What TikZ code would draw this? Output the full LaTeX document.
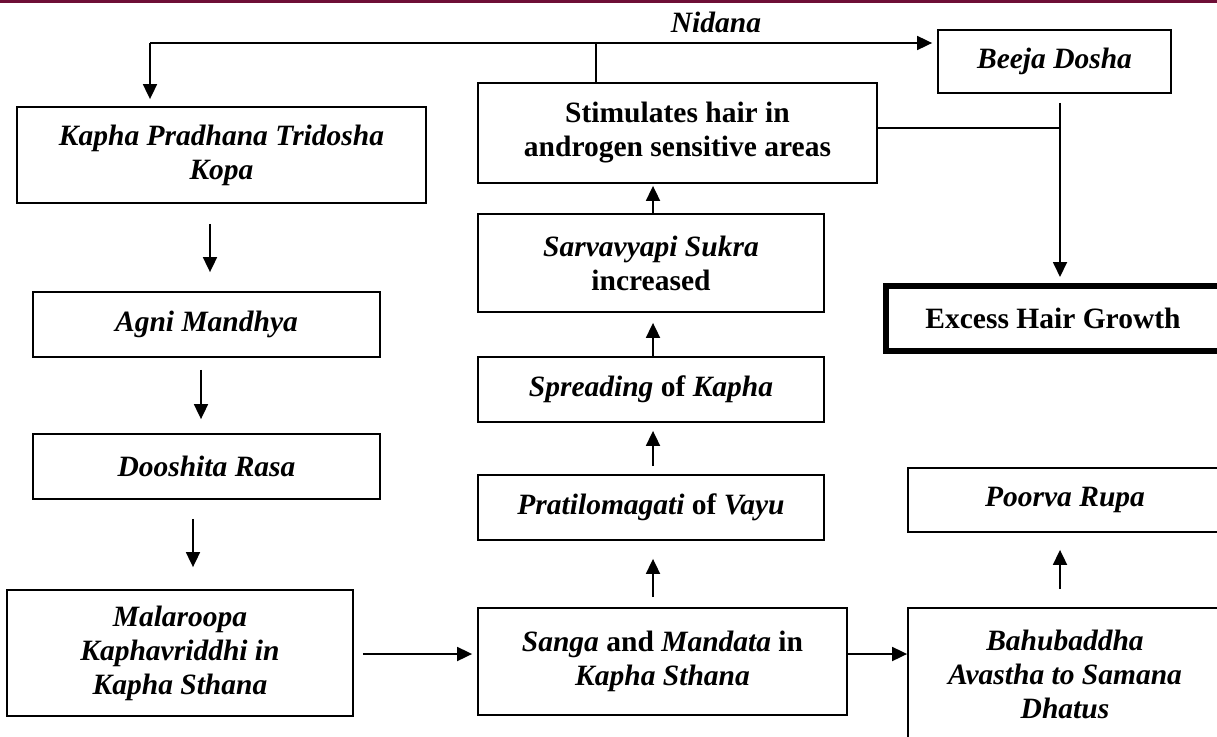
\documentclass[tikz,border=0pt]{standalone}
\usepackage{fontspec}
\setmainfont{Liberation Serif}
\usetikzlibrary{arrows.meta}
\definecolor{maroon}{RGB}{110,14,54}
\tikzset{
  box/.style={draw, line width=1.8pt, align=center, inner sep=0pt,
              font=\bfseries\fontsize{29.5}{34}\selectfont},
  arr/.style={line width=1.8pt, -{Triangle[length=15pt,width=14pt]}},
  ln/.style={line width=1.8pt}
}
\begin{document}
\begin{tikzpicture}[x=1pt,y=-1pt]
\clip (0,0) rectangle (1217,736);
\fill[white] (0,0) rectangle (1217,736);
\fill[maroon] (0,0) rectangle (1217,3);

% nodes
\node[box, minimum width=409pt, minimum height=96pt] (kapha) at (221.5,155) {\textit{Kapha Pradhana Tridosha}\\\textit{Kopa}};
\node[box, minimum width=347pt, minimum height=65pt] (agni) at (206.5,324.5) {\textit{Agni Mandhya}};
\node[box, minimum width=347pt, minimum height=65pt] (doosh) at (206.5,466.5) {\textit{Dooshita Rasa}};
\node[box, minimum width=346pt, minimum height=126pt] (mala) at (180,653) {\textit{Malaroopa}\\\textit{Kaphavriddhi in}\\\textit{Kapha Sthana}};
\node[box, minimum width=369pt, minimum height=107pt] (sanga) at (662.5,661.5) {\textit{Sanga} and \textit{Mandata} in\\\textit{Kapha Sthana}};
\node[box, minimum width=346pt, minimum height=65pt] (prat) at (651,507.5) {\textit{Pratilomagati} of \textit{Vayu}};
\node[box, minimum width=346pt, minimum height=65pt] (spread) at (651,389.5) {\textit{Spreading} of \textit{Kapha}};
\node[box, minimum width=346pt, minimum height=98pt] (sarva) at (651,263) {\textit{Sarvavyapi Sukra}\\increased};
\node[box, minimum width=399pt, minimum height=100pt] (stim) at (677.5,133) {Stimulates hair in\\androgen sensitive areas};
\node[box, minimum width=233pt, minimum height=63pt] (beeja) at (1054.5,61.5) {\textit{Beeja Dosha}};
\node[box, line width=6pt, minimum width=334pt, minimum height=65pt] (excess) at (1053,318.5) {Excess Hair Growth};
\node[box, minimum width=314pt, minimum height=64pt] (poorva) at (1065,500) {\textit{Poorva Rupa}};
\node[box, minimum width=314pt, minimum height=132pt] (bahu) at (1065,674) {\textit{Bahubaddha}\\\textit{Avastha to Samana}\\\textit{Dhatus}};
\node[font=\bfseries\itshape\fontsize{29.5}{34}\selectfont, anchor=base] (nidana) at (716,32) {Nidana};

% helper coordinates
\coordinate (tl) at (150,43);
\coordinate (tm) at (596,43);
\coordinate (xa) at (210,0);
\coordinate (xb) at (201,0);
\coordinate (xc) at (193,0);
\coordinate (ym) at (0,654);
\coordinate (xm) at (653,0);
\coordinate (xr) at (1060,0);
\coordinate (jn) at (1060,128);

% top distribution line
\draw[arr, shorten >=5pt] (tl) -- (beeja.west |- tl);
\draw[arr, shorten >=7pt] (tl) -- (tl |- kapha.north);
\draw[ln] (tm) -- (tm |- stim.north);

% left column
\draw[arr, shorten <=20pt, shorten >=19pt] (kapha.south -| xa) -- (agni.north -| xa);
\draw[arr, shorten <=12pt, shorten >=14pt] (agni.south -| xb) -- (doosh.north -| xb);
\draw[arr, shorten <=19pt, shorten >=22pt] (doosh.south -| xc) -- (mala.north -| xc);
\draw[arr, shorten <=9pt, shorten >=5pt] (mala.east |- ym) -- (sanga.west |- ym);

% middle column (upwards)
\draw[arr, shorten <=10pt, shorten >=18pt] (sanga.north -| xm) -- (prat.south -| xm);
\draw[arr, shorten <=8pt, shorten >=8pt] (prat.north -| xm) -- (spread.south -| xm);
\draw[arr, shorten >=10pt] (spread.north -| xm) -- (sarva.south -| xm);
\draw[arr, shorten >=2pt] (sarva.north -| xm) -- (stim.south -| xm);

% right side
\draw[arr] (sanga.east |- ym) -- (bahu.west |- ym);
\draw[arr, shorten <=18pt, shorten >=17pt] (bahu.north -| xr) -- (poorva.south -| xr);
\draw[ln] (stim.east |- jn) -- (jn);
\draw[arr, shorten <=9pt, shorten >=6pt] (beeja.south -| xr) -- (excess.north -| xr);
\end{tikzpicture}
\end{document}
